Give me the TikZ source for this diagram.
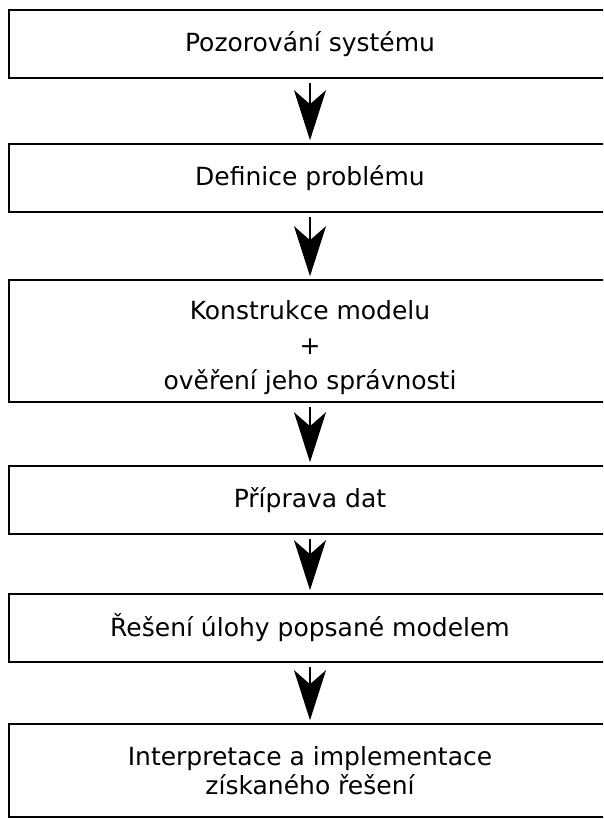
\documentclass[tikz,border=0pt]{standalone}
\usepackage{fontspec}
\setmainfont{DejaVu Sans}
\usetikzlibrary{arrows.meta}
\tikzset{
  box/.style={draw=black, line width=1.6pt, minimum width=602pt, inner sep=0pt,
    align=center, font=\fontsize{25pt}{29pt}\selectfont},
  arr/.style={line width=1.8pt, shorten <=4pt, shorten >=3pt,
    -{Stealth[length=50pt, width=32pt, inset=14pt]}}
}
\begin{document}
\begin{tikzpicture}
\clip (0,0) rectangle (603pt,-819pt);
\fill[white] (0,0) rectangle (603pt,-819pt);
\node[box, minimum height=68pt] (b1) at (310pt,-44pt) {Pozorování systému};
\node[box, minimum height=68pt] (b2) at (310pt,-178pt) {Definice problému};
\node[box, minimum height=122pt] (b3) at (310pt,-341pt) {\rule{0pt}{33pt}Konstrukce modelu\\[6pt]+\\[6pt]ověření jeho správnosti};
\node[box, minimum height=68pt] (b4) at (310pt,-500pt) {Příprava dat};
\node[box, minimum height=68pt] (b5) at (310pt,-628pt) {Řešení úlohy popsané modelem};
\node[box, minimum height=93pt] (b6) at (310pt,-770.5pt) {Interpretace a implementace\\získaného řešení};
\draw[arr] (b1) -- (b2);
\draw[arr] (b2) -- (b3);
\draw[arr] (b3) -- (b4);
\draw[arr] (b4) -- (b5);
\draw[arr] (b5) -- (b6);
\end{tikzpicture}
\end{document}
